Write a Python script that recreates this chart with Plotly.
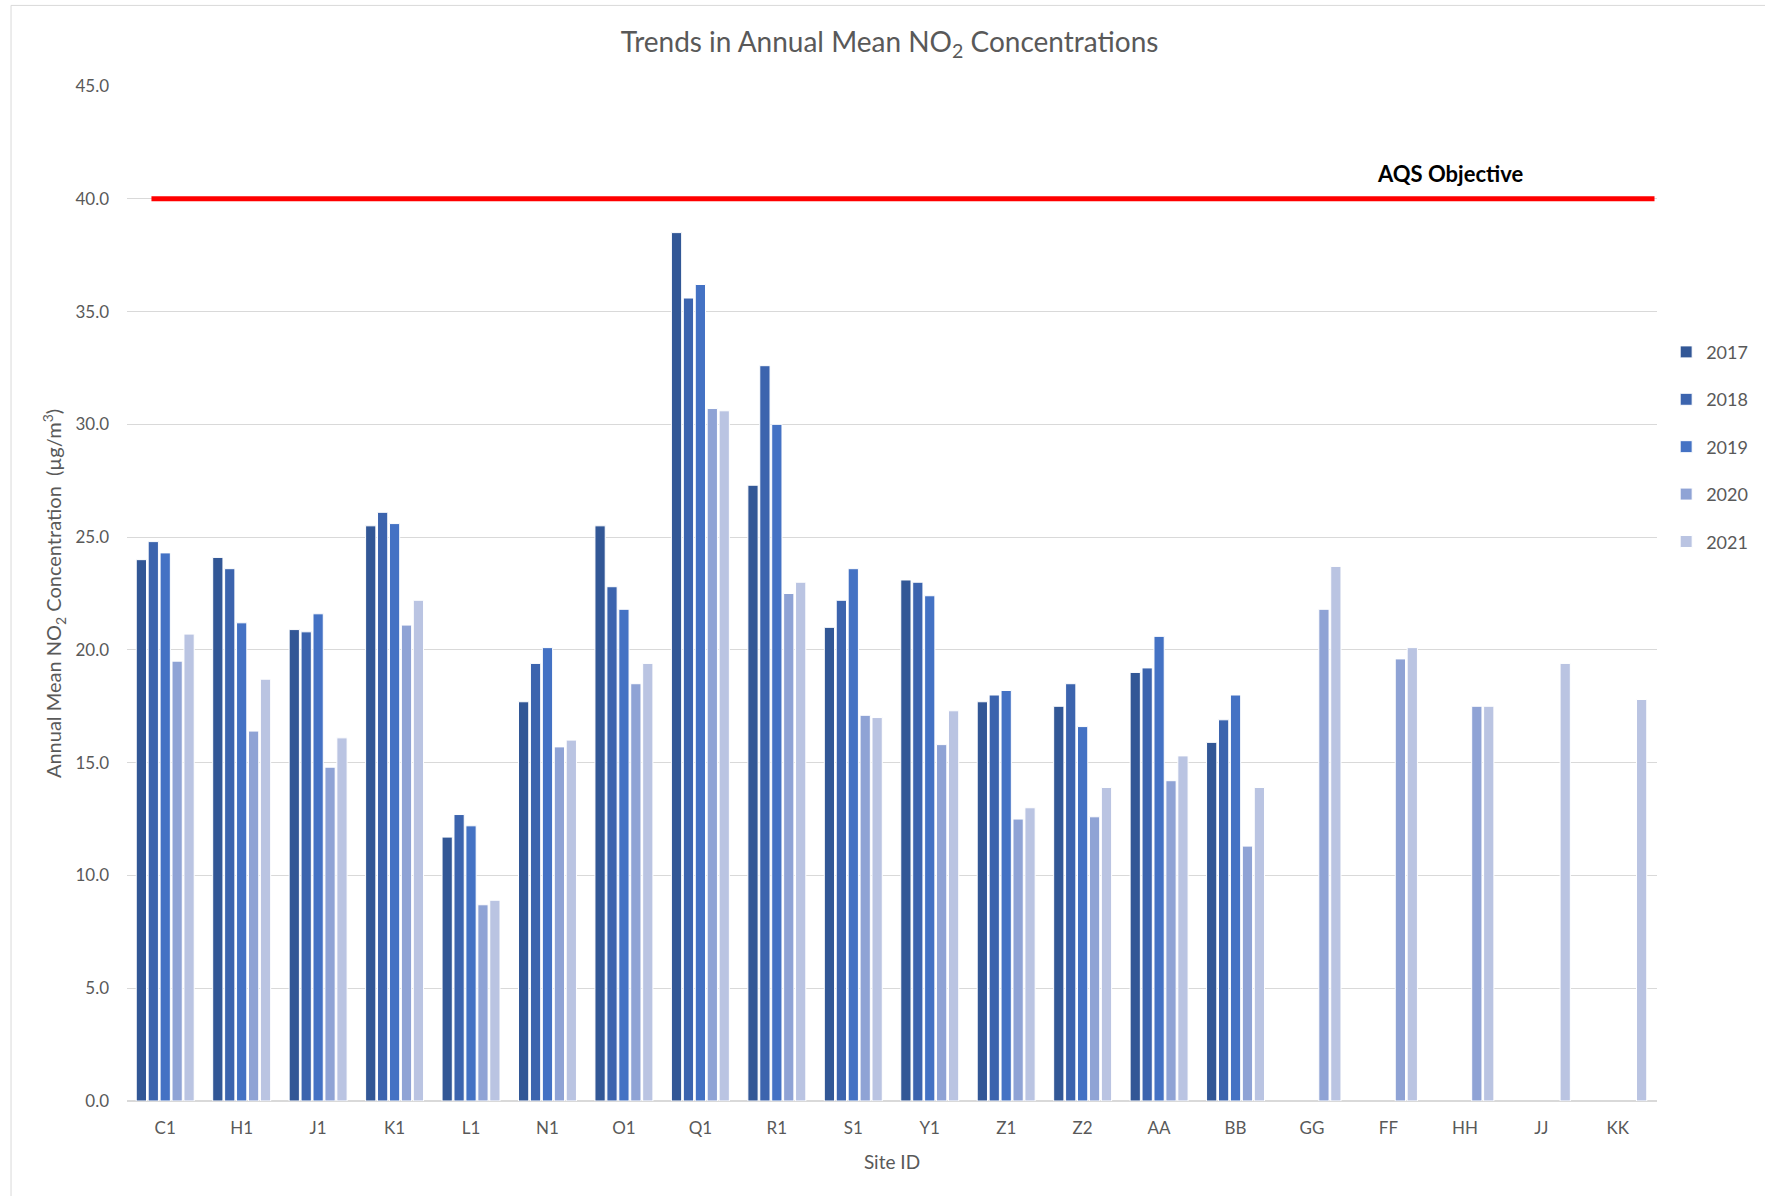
import plotly.graph_objects as go

sites = ["C1", "H1", "J1", "K1", "L1", "N1", "O1", "Q1", "R1", "S1",
         "Y1", "Z1", "Z2", "AA", "BB", "GG", "FF", "HH", "JJ", "KK"]
years = ["2017", "2018", "2019", "2020", "2021"]

v2017 = [24.0, 24.1, 20.9, 25.5, 11.7, 17.7, 25.5, 38.5, 27.3, 21.0,
         23.1, 17.7, 17.5, 19.0, 15.9, None, None, None, None, None]
v2018 = [24.8, 23.6, 20.8, 26.1, 12.7, 19.4, 22.8, 35.6, 32.6, 22.2,
         23.0, 18.0, 18.5, 19.2, 16.9, None, None, None, None, None]
v2019 = [24.3, 21.2, 21.6, 25.6, 12.2, 20.1, 21.8, 36.2, 30.0, 23.6,
         22.4, 18.2, 16.6, 20.6, 18.0, None, None, None, None, None]
v2020 = [19.5, 16.4, 14.8, 21.1, 8.7, 15.7, 18.5, 30.7, 22.5, 17.1,
         15.8, 12.5, 12.6, 14.2, 11.3, 21.8, 19.6, 17.5, None, None]
v2021 = [20.7, 18.7, 16.1, 22.2, 8.9, 16.0, 19.4, 30.6, 23.0, 17.0,
         17.3, 13.0, 13.9, 15.3, 13.9, 23.7, 20.1, 17.5, 19.4, 17.8]

series = [v2017, v2018, v2019, v2020, v2021]
colors = ["#325796", "#3c64ae", "#4472c4", "#8fa3d5", "#bac4e2"]

aqs_objective = 40.0
y_ticks = [0, 5, 10, 15, 20, 25, 30, 35, 40, 45]

FONT = "Lato, Open Sans, sans-serif"
GREY = "#595959"

fig = go.Figure()
for yr, vals, col in zip(years, series, colors):
    fig.add_trace(go.Bar(
        x=sites, y=vals, name=yr, legendgroup=yr,
        marker=dict(color=col, line=dict(color="white", width=1)),
    ))

# AQS objective line
fig.add_shape(type="line", xref="x", yref="y",
              x0=-0.18, x1=len(sites) - 0.52, y0=aqs_objective, y1=aqs_objective,
              line=dict(color="#ff0000", width=5), layer="above")
fig.add_annotation(x=0.914, xref="paper", y=aqs_objective, yref="y",
                   text="<b>AQS Objective</b>", showarrow=False,
                   yshift=25, font=dict(family=FONT, size=22, color="#000000"))

# outer chart border
fig.add_shape(type="rect", xref="paper", yref="paper",
              x0=-0.0758, x1=1.2, y0=-0.2, y1=1.0794,
              line=dict(color="#d9d9d9", width=1), fillcolor="rgba(0,0,0,0)", layer="below")

# y-axis title as annotation (exact placement)
fig.add_annotation(x=-0.048, xref="paper", y=0.5, yref="paper",
                   text="Annual Mean NO<sub>2</sub> Concentration  (µg/m<sup>3</sup>)",
                   textangle=-90, showarrow=False, xanchor="center", yanchor="middle",
                   font=dict(family=FONT, size=20, color=GREY))

fig.update_layout(
    width=1765, height=1196,
    margin=dict(l=127, r=108, t=86, b=95),
    paper_bgcolor="white", plot_bgcolor="white",
    font=dict(family=FONT, color=GREY, size=17),
    title=dict(text="Trends in Annual Mean NO<sub>2</sub> Concentrations",
               x=0.504, xanchor="center", y=0.965, yanchor="middle",
               font=dict(size=28, color=GREY)),
    barmode="group", bargap=0.22, bargroupgap=0.14,
    legend=dict(xref="container", yref="container", x=0.944, xanchor="left",
                y=0.721, yanchor="top",
                font=dict(size=18, color=GREY), tracegroupgap=21,
                itemwidth=30),
    showlegend=True,
)
fig.update_xaxes(
    title=dict(text="Site ID", font=dict(size=19, color=GREY), standoff=18),
    showline=True, linecolor="#d9d9d9", linewidth=1, ticks="",
    tickfont=dict(size=17, color=GREY), showgrid=False, ticklabelstandoff=12,
    automargin=False,
)
fig.update_yaxes(
    range=[0, 45], tickvals=y_ticks, tickformat=".1f",
    showgrid=True, gridcolor="#d9d9d9", gridwidth=1,
    zeroline=True, zerolinecolor="#d9d9d9", ticks="",
    tickfont=dict(size=17, color=GREY), ticklabelstandoff=17,
    automargin=False,
)

fig.write_html("out.html", config={"displayModeBar": False},
               post_script="document.body.style.margin='0';")
